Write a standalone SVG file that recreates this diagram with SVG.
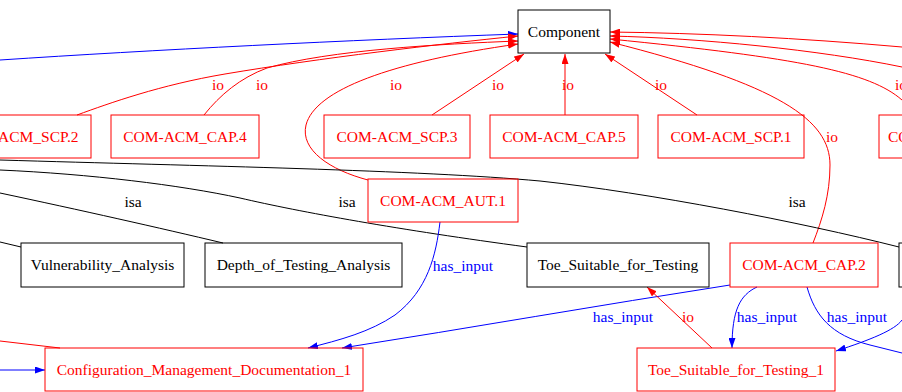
<svg xmlns="http://www.w3.org/2000/svg" width="902" height="392" viewBox="0 0 902 392">
  <style>
    text { font-family: "Liberation Serif", "Times New Roman", serif; font-size: 15.5px; }
    .node-red rect { fill: none; stroke: #ff0000; stroke-width: 1; }
    .node-red text { fill: #ff0000; text-anchor: middle; }
    .node-blk rect { fill: none; stroke: #000000; stroke-width: 1; }
    .node-blk text { fill: #000000; text-anchor: middle; }
    .e { fill: none; stroke-width: 1; }
    .io { stroke: #ff0000; }
    .hi { stroke: #0000ff; }
    .isa { stroke: #000000; }
    .lbl-io { fill: #ff0000; text-anchor: middle; }
    .lbl-hi { fill: #0000ff; text-anchor: middle; }
    .lbl-isa { fill: #000000; text-anchor: middle; }
  </style>
  <defs>
    <marker id="arr-red" viewBox="0 0 10 7" refX="10" refY="3.5" markerWidth="10" markerHeight="7" markerUnits="userSpaceOnUse" orient="auto">
      <path d="M0,0 L10,3.5 L0,7 Z" fill="#ff0000"/>
    </marker>
    <marker id="arr-blue" viewBox="0 0 10 7" refX="10" refY="3.5" markerWidth="10" markerHeight="7" markerUnits="userSpaceOnUse" orient="auto">
      <path d="M0,0 L10,3.5 L0,7 Z" fill="#0000ff"/>
    </marker>
  </defs>
  <rect width="902" height="392" fill="#ffffff"/>

  <g id="connectors">
    <!-- has_input edge entering Component from the left -->
    <path class="e hi" d="M0,60 C150,50 350,40 518,34" marker-end="url(#arr-blue)"/>
    <!-- io edges into Component (left side) -->
    <path class="e io" d="M77,115 C110,103 160,85 225,74 C320,58 440,44 518,36" marker-end="url(#arr-red)"/>
    <path class="e io" d="M204,115 C220,95 240,78 267,68 C330,50 440,44 518,41" marker-end="url(#arr-red)"/>
    <path class="e io" d="M368,180 C330,170 300,150 306,125 C315,90 390,62 518,44" marker-end="url(#arr-red)"/>
    <!-- io edges into Component (bottom) -->
    <path class="e io" d="M432,115 L524,54" marker-end="url(#arr-red)"/>
    <path class="e io" d="M565,115 L565,54" marker-end="url(#arr-red)"/>
    <path class="e io" d="M697,115 L605,54" marker-end="url(#arr-red)"/>
    <!-- io edges into Component (right side) -->
    <path class="e io" d="M902,47 C800,38 700,33 610,32" marker-end="url(#arr-red)"/>
    <path class="e io" d="M902,67 C820,50 700,38 610,36" marker-end="url(#arr-red)"/>
    <path class="e io" d="M902,100 C870,72 800,58 610,39" marker-end="url(#arr-red)"/>
    <path class="e io" d="M813,243 C822,220 830,195 830,165 C830,120 780,85 610,42" marker-end="url(#arr-red)"/>

    <!-- isa edges -->
    <path class="e isa" d="M0,160 C200,166 420,170 540,181 C650,193 800,222 899,247"/>
    <path class="e isa" d="M0,170 C90,174 180,185 240,198 C300,212 400,230 527,247"/>
    <path class="e isa" d="M0,193 C80,210 160,228 223,243"/>
    <path class="e isa" d="M0,242 L21,247"/>

    <!-- lower edges -->
    <path class="e io" d="M0,341 L60,348"/>
    <path class="e hi" d="M0,370 L45,370" marker-end="url(#arr-blue)"/>
    <path class="e hi" d="M440,222 C436,255 428,290 395,315 C370,332 340,340 308,348" marker-end="url(#arr-blue)"/>
    <path class="e hi" d="M730,285 C600,305 470,328 342,348" marker-end="url(#arr-blue)"/>
    <path class="e io" d="M712,348 L647,287" marker-end="url(#arr-red)"/>
    <path class="e hi" d="M757,287 C740,295 732,310 732,348" marker-end="url(#arr-blue)"/>
    <path class="e hi" d="M807,287 C815,315 830,335 870,345 L902,353"/>
    <path class="e hi" d="M902,320 C895,330 870,340 836,351" marker-end="url(#arr-blue)"/>

    <!-- edge labels -->
    <text class="lbl-io" x="218" y="90">io</text>
    <text class="lbl-io" x="262" y="90">io</text>
    <text class="lbl-io" x="396" y="90">io</text>
    <text class="lbl-io" x="498" y="90">io</text>
    <text class="lbl-io" x="568" y="90">io</text>
    <text class="lbl-io" x="661" y="90">io</text>
    <text class="lbl-io" x="895" y="90" style="text-anchor:start">io</text>
    <text class="lbl-io" x="832" y="142">io</text>
    <text class="lbl-isa" x="133" y="207">isa</text>
    <text class="lbl-isa" x="347" y="207">isa</text>
    <text class="lbl-isa" x="797" y="207">isa</text>
    <text class="lbl-hi" x="463" y="271">has_input</text>
    <text class="lbl-hi" x="623" y="322">has_input</text>
    <text class="lbl-io" x="688" y="322">io</text>
    <text class="lbl-hi" x="767" y="322">has_input</text>
    <text class="lbl-hi" x="857" y="322">has_input</text>
  </g>

  <g id="Component" class="node-blk">
    <rect x="518" y="10" width="92" height="43"/>
    <text x="564" y="37">Component</text>
  </g>
  <g id="COM-ACM_SCP.2" class="node-red">
    <rect x="-56" y="115" width="147" height="43"/>
    <text x="18" y="142">COM-ACM_SCP.2</text>
  </g>
  <g id="COM-ACM_CAP.4" class="node-red">
    <rect x="111" y="115" width="148" height="43"/>
    <text x="185" y="142">COM-ACM_CAP.4</text>
  </g>
  <g id="COM-ACM_SCP.3" class="node-red">
    <rect x="324" y="115" width="146" height="43"/>
    <text x="397" y="142">COM-ACM_SCP.3</text>
  </g>
  <g id="COM-ACM_CAP.5" class="node-red">
    <rect x="490" y="115" width="148" height="43"/>
    <text x="564" y="142">COM-ACM_CAP.5</text>
  </g>
  <g id="COM-ACM_SCP.1" class="node-red">
    <rect x="658" y="115" width="146" height="43"/>
    <text x="731" y="142">COM-ACM_SCP.1</text>
  </g>
  <g id="COM-ACM_right" class="node-red">
    <rect x="879" y="115" width="148" height="43"/>
    <text x="888" y="142" style="text-anchor:start">COM-ACM</text>
  </g>
  <g id="COM-ACM_AUT.1" class="node-red">
    <rect x="368" y="179" width="150" height="43"/>
    <text x="443" y="206">COM-ACM_AUT.1</text>
  </g>
  <g id="Vulnerability_Analysis" class="node-blk">
    <rect x="21" y="243" width="163" height="44"/>
    <text x="102.5" y="270">Vulnerability_Analysis</text>
  </g>
  <g id="Depth_of_Testing_Analysis" class="node-blk">
    <rect x="205" y="243" width="197" height="44"/>
    <text x="303.5" y="270">Depth_of_Testing_Analysis</text>
  </g>
  <g id="Toe_Suitable_for_Testing" class="node-blk">
    <rect x="527" y="243" width="182" height="44"/>
    <text x="618" y="270">Toe_Suitable_for_Testing</text>
  </g>
  <g id="COM-ACM_CAP.2" class="node-red">
    <rect x="730" y="243" width="148" height="44"/>
    <text x="804" y="270">COM-ACM_CAP.2</text>
  </g>
  <g id="right_black" class="node-blk">
    <rect x="899" y="243" width="100" height="44"/>
  </g>
  <g id="Configuration_Management_Documentation_1" class="node-red">
    <rect x="45" y="348" width="318" height="43"/>
    <text x="204" y="375">Configuration_Management_Documentation_1</text>
  </g>
  <g id="Toe_Suitable_for_Testing_1" class="node-red">
    <rect x="637" y="348" width="198" height="43"/>
    <text x="736" y="375">Toe_Suitable_for_Testing_1</text>
  </g>
</svg>
